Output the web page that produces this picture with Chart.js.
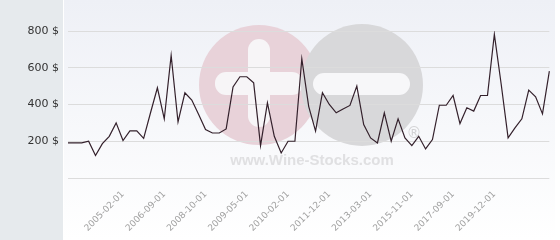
<!DOCTYPE html>
<html>
<head>
<meta charset="utf-8">
<script src="https://cdn.jsdelivr.net/npm/chart.js@4.4.1/dist/chart.umd.min.js"></script>
<style>
  html, body { margin: 0; padding: 0; background: #fff; }
  #wrap { width: 560px; height: 240px; }
</style>
</head>
<body>
<div id="wrap"><canvas id="chart" width="560" height="240"></canvas></div>
<script>
// Price series, one value per point
const prices = [
  191, 191, 191, 200, 122, 187, 227, 300, 204, 256,
  256, 216, 355, 491, 322, 667, 305, 464, 424, 345,
  264, 245, 245, 267, 496, 551, 551, 518, 176, 409,
  227, 136, 200, 200, 649, 390, 255, 464, 400, 355,
  376, 395, 500, 291, 218, 191, 355, 200, 322, 218,
  176, 227, 158, 209, 396, 396, 449, 296, 382, 364,
  449, 449, 782, 509, 218, 273, 322, 478, 442, 349,
  582
];

// Visible date labels and the point each one sits on
const tickDates = ['2005-02-01', '2006-09-01', '2008-10-01', '2009-05-01', '2010-02-01',
                   '2011-12-01', '2013-03-01', '2015-11-01', '2017-09-01', '2019-12-01'];
const tickIndex = [8, 14, 20, 26, 32, 38, 44, 50, 56, 62];

const yTicks = [200, 400, 600, 800];

// category labels: date where known, blank elsewhere
const labels = prices.map((_, i) => {
    const k = tickIndex.indexOf(i);
    return k >= 0 ? tickDates[k] : '';
});

// Background panels + watermark, drawn under the grid
const backdrop = {
    id: 'backdrop',
    beforeDraw(chart) {
        const ctx = chart.ctx;
        const W = chart.width, H = chart.height;
        ctx.save();
        ctx.fillStyle = '#ffffff';
        ctx.fillRect(0, 0, W, H);
        // left grey panel
        ctx.fillStyle = '#e6eaed';
        ctx.fillRect(0, 0, 63, H);
        // plot background gradient
        const g = ctx.createLinearGradient(0, 0, 0, H);
        g.addColorStop(0, '#eef0f6');
        g.addColorStop(1, '#ffffff');
        ctx.fillStyle = g;
        ctx.fillRect(64, 0, 491, H);

        // watermark: pink circle with plus, grey circle with minus
        ctx.fillStyle = '#e8d2d9';
        ctx.beginPath(); ctx.arc(259, 85, 60, 0, Math.PI * 2); ctx.fill();
        ctx.fillStyle = '#f7f5f7';
        roundRect(ctx, 248, 39, 22, 88, 11);
        roundRect(ctx, 215, 72, 88, 23, 11);
        ctx.fillStyle = '#d8d8da';
        ctx.beginPath(); ctx.arc(362, 85, 61, 0, Math.PI * 2); ctx.fill();
        ctx.fillStyle = '#f7f7f9';
        roundRect(ctx, 313, 73, 97, 22, 11);

        ctx.fillStyle = '#e0e0e2';
        ctx.font = 'bold 15px "Liberation Sans", Arial, sans-serif';
        ctx.textAlign = 'center';
        ctx.textBaseline = 'middle';
        ctx.fillText('www.Wine-Stocks.com', 312, 161);
        ctx.fillStyle = '#d2d2d4';
        ctx.font = '15px "DejaVu Sans", sans-serif';
        ctx.fillText('\u00ae', 414, 134);
        ctx.restore();
    }
};

function roundRect(ctx, x, y, w, h, r) {
    ctx.beginPath();
    ctx.moveTo(x + r, y);
    ctx.arcTo(x + w, y, x + w, y + h, r);
    ctx.arcTo(x + w, y + h, x, y + h, r);
    ctx.arcTo(x, y + h, x, y, r);
    ctx.arcTo(x, y, x + w, y, r);
    ctx.closePath();
    ctx.fill();
}

const chart = new Chart(document.getElementById('chart').getContext('2d'), {
    type: 'line',
    data: {
        labels: labels,
        datasets: [{
            data: prices,
            borderColor: '#33202b',
            borderWidth: 1.2,
            pointRadius: 0,
            tension: 0,
            fill: false
        }]
    },
    options: {
        responsive: false,
        animation: false,
        events: [],
        layout: { padding: { top: 31, right: 5, left: 0, bottom: 0 } },
        plugins: { legend: { display: false }, tooltip: { enabled: false } },
        scales: {
            x: {
                offset: false,
                grid: { display: false },
                border: { display: false },
                ticks: {
                    autoSkip: false,
                    minRotation: 45,
                    maxRotation: 45,
                    padding: 3,
                    color: '#a0a0a0',
                    font: { family: 'DejaVu Sans', size: 9 }
                },
                afterFit: s => { s.height = 62; }
            },
            y: {
                min: 0,
                max: 800,
                afterBuildTicks: s => { s.ticks = [0].concat(yTicks).map(v => ({ value: v })); },
                ticks: {
                    padding: 9,
                    color: '#333333',
                    font: { family: 'DejaVu Sans', size: 11 },
                    callback: v => v === 0 ? '' : v + ' $'
                },
                grid: { color: '#dcdcdc', drawTicks: false },
                border: { display: false },
                afterFit: s => { s.width = 68; }
            }
        }
    },
    plugins: [backdrop]
});
</script>
</body>
</html>
